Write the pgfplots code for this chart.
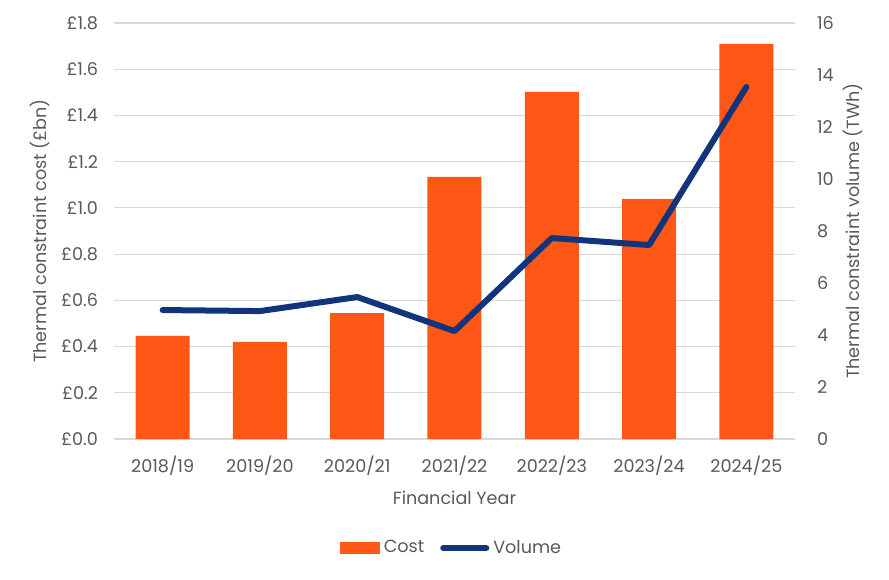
\documentclass[border=0pt]{standalone}
\usepackage{pgfplots}
\pgfplotsset{compat=1.18}
\usepackage{fontspec}
\setmainfont{Poppins}
\definecolor{costc}{RGB}{255,88,22}
\definecolor{volc}{RGB}{16,53,125}
\definecolor{gridc}{RGB}{217,217,217}
\definecolor{txtc}{RGB}{89,89,89}
\begin{document}
\begin{tikzpicture}[font=\fontsize{8.8}{10}\selectfont, text=txtc]
\useasboundingbox (-57pt,-70pt) rectangle (387.5pt,219.5pt);
\begin{axis}[
  at={(0,0)}, anchor=south west,
  scale only axis, width=340.5pt, height=208pt,
  xmin=-0.5, xmax=6.5, ymin=0, ymax=1.8,
  xtick={0,...,6},
  xticklabels={2018/19,2019/20,2020/21,2021/22,2022/23,2023/24,2024/25},
  ytick={0,0.2,0.4,0.6,0.8,1.0,1.2,1.4,1.6,1.8},
  yticklabels={£0.0,£0.2,£0.4,£0.6,£0.8,£1.0,£1.2,£1.4,£1.6,£1.8},
  axis y line*=left, axis x line*=bottom,
  y axis line style={draw=none},
  x axis line style={draw=gridc, line width=0.6pt},
  major tick length=0pt,
  ymajorgrids, grid style={gridc, line width=0.6pt},
  yticklabel style={xshift=-4.5pt, text=txtc},
  xticklabel style={yshift=-5pt, text=txtc},
  ylabel={Thermal constraint cost (£bn)},
  ylabel style={text=txtc, at={(axis description cs:-0.1087,0.5)}, anchor=center},
  xlabel={Financial Year},
  xlabel style={text=txtc, yshift=-1pt},
  legend style={at={(0.497,-0.262)}, anchor=center, draw=none, legend columns=2, fill=none,
    /tikz/every even column/.append style={column sep=6pt}, font=\fontsize{8.8}{10}\selectfont, text=txtc},
]
\addplot[ybar, bar width=27pt, fill=costc, draw=none, legend image code/.code={\fill[costc] (0pt,-3pt) rectangle (20pt,3pt);}]
  coordinates {(0,0.446) (1,0.420) (2,0.545) (3,1.134) (4,1.502) (5,1.039) (6,1.710)};
\addlegendentry{Cost}
\addlegendimage{legend image code/.code={\draw[volc, line width=3pt, line cap=round] (1.5pt,0pt) -- (23pt,0pt);}}
\addlegendentry{Volume}
\end{axis}
\begin{axis}[
  at={(0,0)}, anchor=south west,
  scale only axis, width=340.5pt, height=208pt,
  xmin=-0.5, xmax=6.5, ymin=0, ymax=16,
  ytick={0,2,...,16},
  axis y line*=right, axis x line=none,
  y axis line style={draw=none},
  major tick length=0pt,
  yticklabel style={xshift=7.5pt, text=txtc},
  /pgf/number format/assume math mode=true,
  ylabel={Thermal constraint volume (TWh)},
  ylabel style={text=txtc, at={(axis description cs:1.0852,0.5)}, anchor=center},
]
\addplot[volc, line width=3pt, line join=round, line cap=round, mark=none]
  coordinates {(0,4.96) (1,4.92) (2,5.46) (3,4.15) (4,7.73) (5,7.46) (6,13.54)};
\end{axis}
\end{tikzpicture}
\end{document}
